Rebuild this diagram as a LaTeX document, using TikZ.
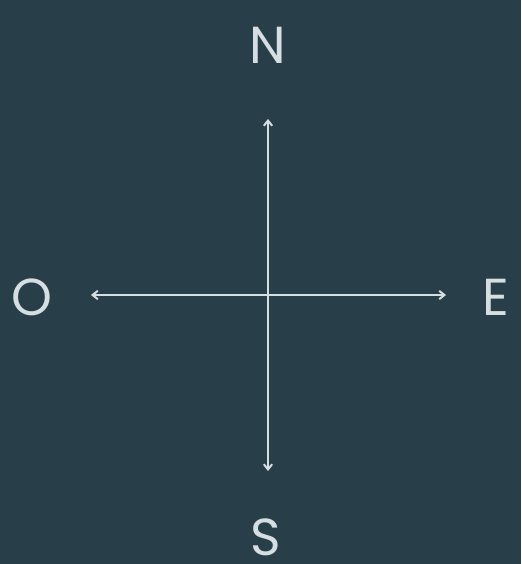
\documentclass[tikz,border=0pt]{standalone}
\usepackage{fontspec}
\setmainfont{Poppins}
\usetikzlibrary{arrows.meta,positioning}
\definecolor{slate}{HTML}{283F4A}
\definecolor{mist}{HTML}{D6DEE1}
\tikzset{
  cardinal/.style={text=mist,inner sep=0pt,anchor=base,font=\fontsize{74}{74}\selectfont},
  axis/.style={{Straight Barb[length=2.6mm,width=4.2mm]}-{Straight Barb[length=2.6mm,width=4.2mm]},draw=mist,line width=1mm}
}
\begin{document}
\begin{tikzpicture}[x=0.5mm,y=-0.5mm]
\fill[slate] (0,0) rectangle (521,564);
\useasboundingbox (0,0) rectangle (521,564);

\node[cardinal] (north) at (268,64) {N};
\node[cardinal] (south) at (266,555) {S};
\node[cardinal] (west) at (32,315) {O};
\node[cardinal] (east) at (496,315) {E};

\coordinate (top) at (268,119);
\coordinate (bottom) at (268,471);
\coordinate (left) at (91,295);
\coordinate (right) at (446,295);

\draw[axis] (top)--(bottom);
\draw[axis] (left)--(right);
\end{tikzpicture}
\end{document}
